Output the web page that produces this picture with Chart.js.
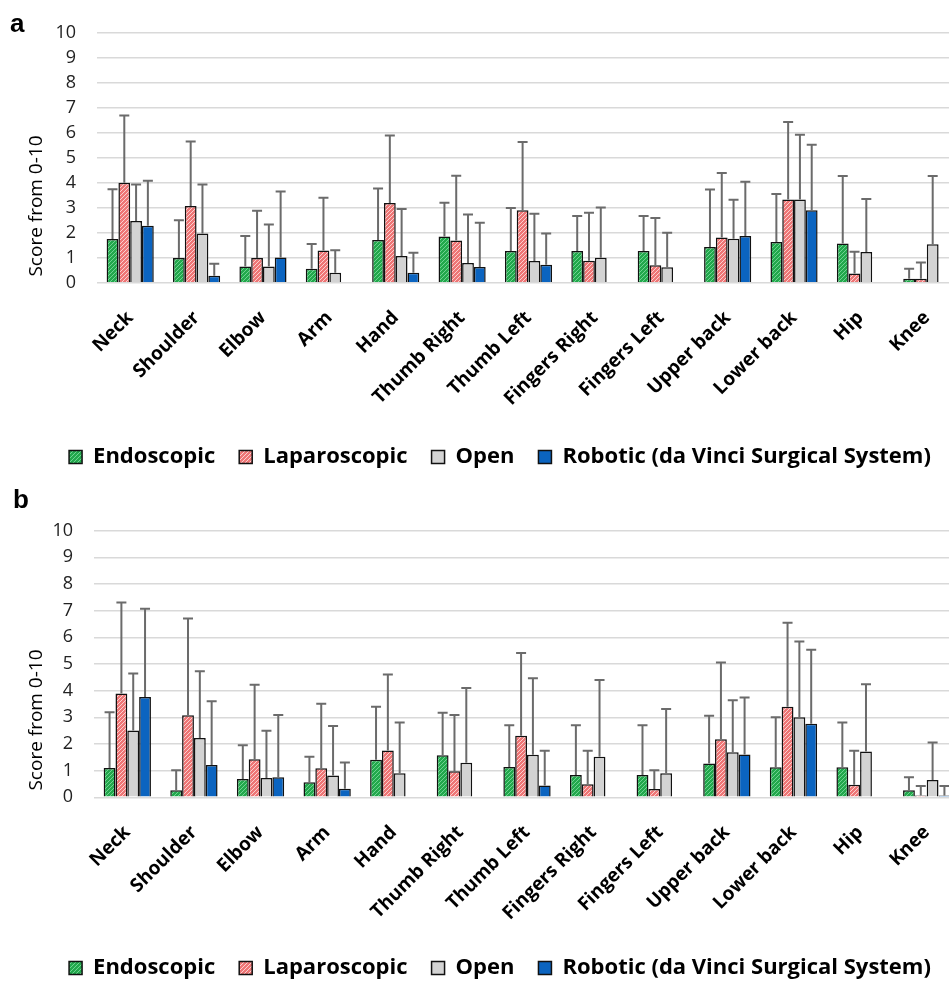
<!DOCTYPE html>
<html>
<head>
<meta charset="utf-8">
<script src="https://cdn.jsdelivr.net/npm/chart.js@4.4.0/dist/chart.umd.min.js"></script>
<style>
html, body { margin: 0; padding: 0; background: #fff; overflow: hidden; width: 949px; height: 982px; }
.panel { position: absolute; left: 0; width: 960px; }
#wrapA { top: 0; height: 490px; }
#wrapB { top: 490px; height: 510px; }
.letter { position: absolute; font: bold 26px "Liberation Sans", Arial, sans-serif; color: #000; }
</style>
</head>
<body>
<div class="panel" id="wrapA"><canvas id="chartA"></canvas></div>
<div class="panel" id="wrapB"><canvas id="chartB"></canvas></div>
<div class="letter" style="left:10px; top:8px">a</div>
<div class="letter" style="left:13px; top:484px">b</div>
<script>
// categories and series
const categories = ["Neck", "Shoulder", "Elbow", "Arm", "Hand", "Thumb Right", "Thumb Left",
    "Fingers Right", "Fingers Left", "Upper back", "Lower back", "Hip", "Knee"];
const seriesNames = ["Endoscopic", "Laparoscopic", "Open", "Robotic (da Vinci Surgical System)"];
const yTicks = [0, 1, 2, 3, 4, 5, 6, 7, 8, 9, 10];

// panel a - mean scores
const aEndoscopic   = [1.75, 0.99, 0.65, 0.56, 1.71, 1.85, 1.27, 1.27, 1.27, 1.43, 1.63, 1.57, 0.16];
const aLaparoscopic = [4.00, 3.07, 0.99, 1.29, 3.19, 1.69, 2.90, 0.88, 0.70, 1.81, 3.33, 0.37, 0.16];
const aOpen         = [2.47, 1.97, 0.65, 0.40, 1.07, 0.79, 0.87, 1.00, 0.62, 1.76, 3.33, 1.23, 1.54];
const aRobotic      = [2.28, 0.28, 1.01, null, 0.40, 0.63, 0.72, null, null, 1.87, 2.90, null, null];
// panel a - upper end of the error bars
const aEndoscopicTop   = [3.74, 2.50, 1.87, 1.55, 3.77, 3.20, 2.99, 2.67, 2.67, 3.73, 3.55, 4.27, 0.56];
const aLaparoscopicTop = [6.70, 5.65, 2.88, 3.40, 5.90, 4.28, 5.63, 2.80, 2.59, 4.39, 6.44, 1.24, 0.81];
const aOpenTop         = [3.93, 3.93, 2.33, 1.30, 2.95, 2.73, 2.76, 3.01, 2.00, 3.32, 5.93, 3.35, 4.27];
const aRoboticTop      = [4.08, 0.76, 3.65, null, 1.20, 2.40, 1.97, null, null, 4.04, 5.52, null, null];

// panel b - mean scores
const bEndoscopic   = [1.10, 0.26, 0.69, 0.56, 1.41, 1.58, 1.14, 0.84, 0.84, 1.27, 1.13, 1.13, 0.26];
const bLaparoscopic = [3.89, 3.08, 1.43, 1.09, 1.76, 0.98, 2.31, 0.49, 0.31, 2.18, 3.40, 0.47, 0.07];
const bOpen         = [2.51, 2.22, 0.72, 0.82, 0.90, 1.30, 1.60, 1.52, 0.90, 1.69, 3.00, 1.72, 0.65];
const bRobotic      = [3.76, 1.21, 0.75, 0.32, null, null, 0.44, null, null, 1.61, 2.76, null, 0.07];
// panel b - upper end of the error bars
const bEndoscopicTop   = [3.19, 1.01, 1.95, 1.52, 3.40, 3.17, 2.70, 2.70, 2.70, 3.06, 3.00, 2.81, 0.75];
const bLaparoscopicTop = [7.31, 6.71, 4.22, 3.51, 4.61, 3.09, 5.41, 1.75, 1.01, 5.06, 6.55, 1.75, 0.42];
const bOpenTop         = [4.64, 4.73, 2.50, 2.67, 2.81, 4.10, 4.47, 4.40, 3.31, 3.64, 5.84, 4.24, 2.06];
const bRoboticTop      = [7.07, 3.60, 3.09, 1.31, null, null, 1.75, null, null, 3.74, 5.53, null, 0.42];

Chart.defaults.font.family = "'Open Sans', Lato, sans-serif";
Chart.defaults.color = "#000";

// diagonal hatch fill like the excel pattern
function hatch(base, stripe) {
    const c = document.createElement("canvas");
    c.width = 4; c.height = 4;
    const g = c.getContext("2d");
    g.fillStyle = base;
    g.fillRect(0, 0, 4, 4);
    g.strokeStyle = stripe;
    g.lineWidth = 1;
    g.beginPath();
    g.moveTo(0, 4); g.lineTo(4, 0);
    g.moveTo(-1, 1); g.lineTo(1, -1);
    g.moveTo(3, 5); g.lineTo(5, 3);
    g.stroke();
    return g.createPattern(c, "repeat");
}

const fills = [
    hatch("#22a84c", "#6fd392"),
    hatch("#ee7676", "#fbd0d0"),
    "#d3d3d3",
    "#0b64c0"
];

// error bars (upper only), positions taken from the bar elements and the y scale
const errorBars = {
    id: "errorBars",
    afterDatasetsDraw(chart) {
        const ctx = chart.ctx;
        const y = chart.scales.y;
        ctx.save();
        ctx.strokeStyle = "#6b6b6b";
        ctx.lineWidth = 2;
        chart.data.datasets.forEach((ds, di) => {
            const meta = chart.getDatasetMeta(di);
            meta.data.forEach((bar, i) => {
                const top = ds.errorTop[i];
                if (top == null || ds.data[i] == null) return;
                const yt = y.getPixelForValue(top);
                ctx.beginPath();
                ctx.moveTo(bar.x, bar.y);
                ctx.lineTo(bar.x, yt);
                ctx.moveTo(bar.x - 5, yt);
                ctx.lineTo(bar.x + 5, yt);
                ctx.stroke();
            });
        });
        ctx.restore();
    }
};

function yTitle(cx, cy) {
    return {
        id: "yTitle",
        afterDraw(chart) {
            const ctx = chart.ctx;
            ctx.save();
            ctx.translate(cx, cy);
            ctx.rotate(-Math.PI / 2);
            ctx.font = "19px 'Open Sans'";
            ctx.fillStyle = "#000";
            ctx.textAlign = "center";
            ctx.textBaseline = "middle";
            ctx.fillText("Score from 0-10", 0, 0);
            ctx.restore();
        }
    };
}

function makeChart(id, means, tops, o) {
    const datasets = seriesNames.map((name, k) => ({
        label: name,
        data: means[k],
        errorTop: tops[k],
        backgroundColor: fills[k],
        borderColor: "#111",
        borderWidth: 1.5,
        categoryPercentage: 0.71,
        barPercentage: 1.0
    }));
    return new Chart(document.getElementById(id), {
        type: "bar",
        data: { labels: categories, datasets: datasets },
        options: {
            responsive: true,
            maintainAspectRatio: false,
            animation: false,
            layout: { padding: { left: 40, right: 0, top: o.top, bottom: o.bottom } },
            plugins: {
                tooltip: { enabled: false },
                legend: {
                    position: "bottom",
                    labels: {
                        boxWidth: 13,
                        boxHeight: 13,
                        padding: 24,
                        color: "#000",
                        font: { size: 22, weight: "bold" }
                    }
                }
            },
            scales: {
                x: {
                    grid: { display: false },
                    border: { display: false },
                    ticks: {
                        autoSkip: false,
                        maxRotation: 45,
                        minRotation: 45,
                        padding: 16,
                        color: "#000",
                        font: { size: 19, weight: "bold" }
                    },
                    afterFit(scale) { scale.height = o.xHeight; }
                },
                y: {
                    min: 0,
                    max: 10,
                    afterBuildTicks(scale) { scale.ticks = yTicks.map(v => ({ value: v })); },
                    grid: { color: "#d9d9d9", lineWidth: 1.5, drawTicks: false },
                    border: { display: false },
                    ticks: {
                        autoSkip: false,
                        padding: 21,
                        color: "#222",
                        font: { size: 18 }
                    },
                    afterFit(scale) { scale.width = o.yWidth; }
                }
            }
        },
        plugins: [errorBars, yTitle(o.titleX, o.titleY)]
    });
}

// legend height: 22 + 24 + 10 = 56, row centre at legend top + 35
makeChart("chartA",
    [aEndoscopic, aLaparoscopic, aOpen, aRobotic],
    [aEndoscopicTop, aLaparoscopicTop, aOpenTop, aRoboticTop],
    { top: 33, bottom: 12, xHeight: 139.3, yWidth: 57, titleX: 37, titleY: 206 });

makeChart("chartB",
    [bEndoscopic, bLaparoscopic, bOpen, bRobotic],
    [bEndoscopicTop, bLaparoscopicTop, bOpenTop, bRoboticTop],
    { top: 40.7, bottom: 11, xHeight: 135.7, yWidth: 54, titleX: 37, titleY: 230 });
</script>
</body>
</html>
